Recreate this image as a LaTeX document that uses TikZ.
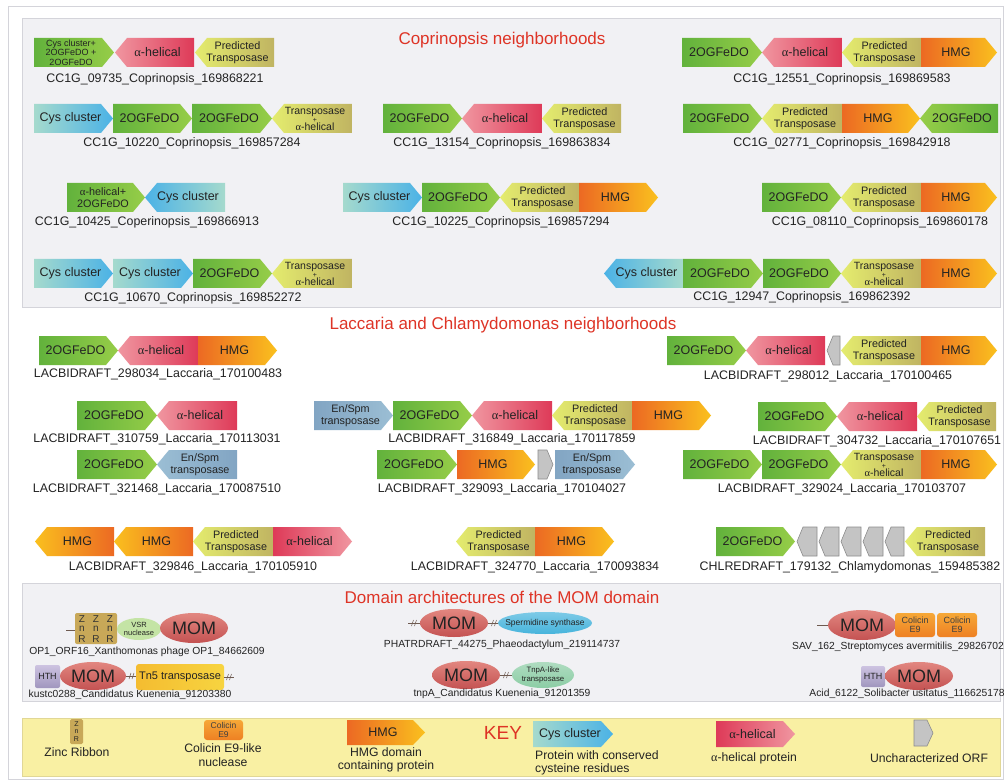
\documentclass[tikz,border=0pt]{standalone}
\usepackage{fontspec}
\setmainfont{Liberation Sans}
\newfontfamily\grk{Liberation Serif}
\newcommand{\al}{{\grk α}}
\definecolor{ogb}{RGB}{98,178,60}
\definecolor{ogt}{RGB}{150,205,72}
\definecolor{ahb}{RGB}{222,58,88}
\definecolor{aht}{RGB}{240,150,160}
\definecolor{ptb}{RGB}{192,180,98}
\definecolor{ptt}{RGB}{228,236,110}
\definecolor{hmgb}{RGB}{236,105,35}
\definecolor{hmgt}{RGB}{250,192,30}
\definecolor{cysb}{RGB}{165,218,205}
\definecolor{cyst}{RGB}{75,178,230}
\definecolor{enb}{RGB}{130,165,195}
\definecolor{ent}{RGB}{155,190,212}
\definecolor{orfc}{RGB}{196,196,196}
\definecolor{orfd}{RGB}{140,140,140}
\definecolor{txt}{RGB}{35,35,35}
\definecolor{ttlred}{RGB}{222,52,38}
\definecolor{panelbg}{RGB}{241,241,244}
\definecolor{panelln}{RGB}{212,212,218}
\definecolor{keybg}{RGB}{249,240,163}
\definecolor{keyln}{RGB}{225,215,150}
\definecolor{momt}{RGB}{226,135,128}
\definecolor{momb}{RGB}{196,82,82}
\definecolor{tanc}{RGB}{200,168,88}
\definecolor{vsrc}{RGB}{196,228,165}
\definecolor{htht}{RGB}{205,195,225}
\definecolor{hthb}{RGB}{160,150,190}
\definecolor{tnl}{RGB}{244,188,48}
\definecolor{tnr}{RGB}{247,212,64}
\definecolor{spc}{RGB}{70,180,220}
\definecolor{tnpc}{RGB}{140,205,165}
\definecolor{cola}{RGB}{238,128,35}
\definecolor{colb}{RGB}{246,168,55}
\definecolor{hashc}{RGB}{110,90,80}
\newcount\gcnt
\def\hh{29}
\def\tl{12}
% forward gene: [node opts]{x1}{x2}{ytop}{kind}{text}
\newcommand{\gf}[6][]{%
  \global\advance\gcnt by 1
  \shade[left color=#5b, right color=#5t] (#2,#4) -- ({#3-\tl},#4) -- (#3,{#4+\hh/2}) -- ({#3-\tl},{#4+\hh}) -- (#2,{#4+\hh}) -- cycle;
  \node[gtext,#1] (g\the\gcnt) at ({(#2+#3-\tl/2)/2},{#4+\hh/2}) {#6};
}
% reverse gene
\newcommand{\gr}[6][]{%
  \global\advance\gcnt by 1
  \shade[left color=#5t, right color=#5b] (#2,{#4+\hh/2}) -- ({#2+\tl},#4) -- (#3,#4) -- (#3,{#4+\hh}) -- ({#2+\tl},{#4+\hh}) -- cycle;
  \node[gtext,#1] (g\the\gcnt) at ({(#2+#3+\tl/2)/2},{#4+\hh/2}) {#6};
}
% grey ORFs
\newcommand{\orff}[3]{%
  \filldraw[fill=orfc, draw=orfd, line width=0.6pt] (#1,#3) -- ({#2-6},#3) -- (#2,{#3+\hh/2}) -- ({#2-6},{#3+\hh}) -- (#1,{#3+\hh}) -- cycle;}
\newcommand{\orfr}[3]{%
  \filldraw[fill=orfc, draw=orfd, line width=0.6pt] (#1,{#3+\hh/2}) -- ({#1+6},#3) -- (#2,#3) -- (#2,{#3+\hh}) -- ({#1+6},{#3+\hh}) -- cycle;}
% hash connector
\newcommand{\hashln}[3]{%
  \draw[hashc, line width=0.6pt] (#1,#3) -- (#2,#3);
  \draw[hashc, line width=0.5pt] ({(#1+#2)/2-2.5},{#3+3}) -- ({(#1+#2)/2-0.5},{#3-3});
  \draw[hashc, line width=0.5pt] ({(#1+#2)/2+0.5},{#3+3}) -- ({(#1+#2)/2+2.5},{#3-3});}
\tikzset{
  gtext/.style={inner sep=0pt, text=txt, font=\fontsize{12.5}{14}\selectfont, align=center},
  two/.style={font=\fontsize{10.8}{11.5}\selectfont},
  tpa/.style={font=\fontsize{10.5}{9}\selectfont},
  three/.style={font=\fontsize{9}{9.3}\selectfont},
  lbl/.style={inner sep=0pt, text=txt, font=\fontsize{12.4}{14}\selectfont},
  mlbl/.style={inner sep=0pt, text=txt, font=\fontsize{10.3}{12}\selectfont},
  klbl/.style={inner sep=0pt, text=txt, font=\fontsize{12.2}{13.5}\selectfont, align=center},
  ttl/.style={inner sep=0pt, text=ttlred, font=\fontsize{17}{20}\selectfont},
  panel/.style={fill=panelbg, draw=panelln, line width=1pt},
  momtext/.style={inner sep=0pt, text=txt, font=\fontsize{18}{20}\selectfont},
  smalltext/.style={inner sep=0pt, text=txt, align=center},
}
\newcommand{\TA}{Transposase\\[-1pt]{\fontsize{7}{7}\selectfont +}\\[-1pt]\al-helical}
\newcommand{\PT}{Predicted\\Transposase}
\begin{document}
\begin{tikzpicture}[x=1pt,y=-1pt]
\useasboundingbox (0,0) rectangle (1008,783);
\fill[white] (0,0) rectangle (1008,783);
\draw[panelln, line width=0.8pt] (8,6) rectangle (1003,779);
% panels
\draw[panel] (22,19) rectangle (1000,307);
\draw[panel] (22,583) rectangle (1000,701);
\draw[fill=keybg, draw=keyln, line width=1pt] (22,718) rectangle (1000,776);

% ================= Coprinopsis
\node[ttl] (t1) at (502,40) {Coprinopsis neighborhoods};
% row 1
\gf[three]{34}{114}{38}{og}{Cys cluster+\\2OGFeDO +\\2OGFeDO}
\gr{115}{194}{38}{ah}{\al-helical}
\gr[two]{195}{274}{38}{pt}{\PT}
\node[lbl] (l1) at (155,79) {CC1G\_09735\_Coprinopsis\_169868221};
\gf{682}{762}{38}{og}{2OGFeDO}
\gr{762}{842}{38}{ah}{\al-helical}
\gr[two]{842}{921}{38}{pt}{\PT}
\gf{921}{997}{38}{hmg}{HMG}
\node[lbl] (l2) at (842,79) {CC1G\_12551\_Coprinopsis\_169869583};
% row 2
\gf{34}{113}{104}{cys}{Cys cluster}
\gf{113}{192}{104}{og}{2OGFeDO}
\gf{192}{272}{104}{og}{2OGFeDO}
\gr[tpa]{272}{352}{104}{pt}{\TA}
\node[lbl] (l3) at (192,143) {CC1G\_10220\_Coprinopsis\_169857284};
\gf{383}{462}{104}{og}{2OGFeDO}
\gr{462}{542}{104}{ah}{\al-helical}
\gr[two]{542}{621}{104}{pt}{\PT}
\node[lbl] (l4) at (502,143) {CC1G\_13154\_Coprinopsis\_169863834};
\gf{683}{762}{104}{og}{2OGFeDO}
\gr[two]{762}{842}{104}{pt}{\PT}
\gf{842}{920}{104}{hmg}{HMG}
\gr{920}{998}{104}{og}{2OGFeDO}
\node[lbl] (l5) at (842,143) {CC1G\_02771\_Coprinopsis\_169842918};
% row 3
\gf[two]{67}{145}{183}{og}{\al-helical+\\2OGFeDO}
\gr{145}{225}{183}{cys}{Cys cluster}
\node[lbl] (l6) at (147,222) {CC1G\_10425\_Coperinopsis\_169866913};
\gf{343}{422}{183}{cys}{Cys cluster}
\gf{422}{500}{183}{og}{2OGFeDO}
\gr[two]{500}{579}{183}{pt}{\PT}
\gf{579}{658}{183}{hmg}{HMG}
\node[lbl] (l7) at (501,222) {CC1G\_10225\_Coprinopsis\_169857294};
\gf{762}{841}{183}{og}{2OGFeDO}
\gr[two]{841}{921}{183}{pt}{\PT}
\gf{921}{997}{183}{hmg}{HMG}
\node[lbl] (l8) at (880,222) {CC1G\_08110\_Coprinopsis\_169860178};
% row 4
\gf{34}{113}{259}{cys}{Cys cluster}
\gf{113}{193}{259}{cys}{Cys cluster}
\gf{193}{272}{259}{og}{2OGFeDO}
\gr[tpa]{272}{352}{259}{pt}{\TA}
\node[lbl] (l9) at (193,298) {CC1G\_10670\_Coprinopsis\_169852272};
\gr{604}{683}{259}{cys}{Cys cluster}
\gf{683}{763}{259}{og}{2OGFeDO}
\gf{763}{841}{259}{og}{2OGFeDO}
\gr[tpa]{841}{921}{259}{pt}{\TA}
\gf{921}{997}{259}{hmg}{HMG}
\node[lbl] (l10) at (802,297) {CC1G\_12947\_Coprinopsis\_169862392};

% ================= Laccaria
\node[ttl] (t2) at (503,325) {Laccaria and Chlamydomonas neighborhoods};
% L1
\gf{39}{118}{336}{og}{2OGFeDO}
\gr{118}{198}{336}{ah}{\al-helical}
\gf{198}{277}{336}{hmg}{HMG}
\node[lbl] (l11) at (158,374) {LACBIDRAFT\_298034\_Laccaria\_170100483};
\gf{667}{746}{336}{og}{2OGFeDO}
\gr{746}{825}{336}{ah}{\al-helical}
\orfr{827}{840}{336}
\gr[two]{841}{921}{336}{pt}{\PT}
\gf{921}{997}{336}{hmg}{HMG}
\node[lbl] (l12) at (828,376) {LACBIDRAFT\_298012\_Laccaria\_170100465};
% L2
\gf{77}{157}{401}{og}{2OGFeDO}
\gr{157}{237}{401}{ah}{\al-helical}
\node[lbl] (l13) at (157,439) {LACBIDRAFT\_310759\_Laccaria\_170113031};
\gf[two]{314}{393}{401}{en}{En/Spm\\transposase}
\gf{393}{472}{401}{og}{2OGFeDO}
\gr{472}{552}{401}{ah}{\al-helical}
\gr[two]{552}{632}{401}{pt}{\PT}
\gf{632}{711}{401}{hmg}{HMG}
\node[lbl] (l14) at (512,439) {LACBIDRAFT\_316849\_Laccaria\_170117859};
\gf{758}{837}{402}{og}{2OGFeDO}
\gr{837}{917}{402}{ah}{\al-helical}
\gr[two]{917}{996}{402}{pt}{\PT}
\node[lbl] (l15) at (877,441) {LACBIDRAFT\_304732\_Laccaria\_170107651};
% L3
\gf{77}{157}{450}{og}{2OGFeDO}
\gr[two]{157}{237}{450}{en}{En/Spm\\transposase}
\node[lbl] (l16) at (157,489) {LACBIDRAFT\_321468\_Laccaria\_170087510};
\gf{377}{457}{450}{og}{2OGFeDO}
\gf{457}{535}{450}{hmg}{HMG}
\orff{538}{553}{450}
\gf[two]{555}{635}{450}{en}{En/Spm\\transposase}
\node[lbl] (l17) at (502,489) {LACBIDRAFT\_329093\_Laccaria\_170104027};
\gf{683}{762}{450}{og}{2OGFeDO}
\gf{762}{841}{450}{og}{2OGFeDO}
\gr[tpa]{841}{921}{450}{pt}{\TA}
\gf{921}{997}{450}{hmg}{HMG}
\node[lbl] (l18) at (842,489) {LACBIDRAFT\_329024\_Laccaria\_170103707};
% L4
\gr{35}{114}{527}{hmg}{HMG}
\gr{114}{193}{527}{hmg}{HMG}
\gr[two]{193}{273}{527}{pt}{\PT}
\gf{273}{352}{527}{ah}{\al-helical}
\node[lbl] (l19) at (193,567) {LACBIDRAFT\_329846\_Laccaria\_170105910};
\gr[two]{456}{535}{527}{pt}{\PT}
\gf{535}{614}{527}{hmg}{HMG}
\node[lbl] (l20) at (535,567) {LACBIDRAFT\_324770\_Laccaria\_170093834};
\gf{716}{795}{527}{og}{2OGFeDO}
\orfr{797}{817}{527}
\orfr{819}{839}{527}
\orfr{841}{861}{527}
\orfr{863}{883}{527}
\orfr{885}{904}{527}
\gr[two]{905}{985}{527}{pt}{\PT}
\node[lbl] (l21) at (850,567) {CHLREDRAFT\_179132\_Chlamydomonas\_159485382};

% ================= MOM domain
\node[ttl] (t3) at (502,597) {Domain architectures of the MOM domain};
% OP1
\draw[hashc, line width=0.6pt] (66,630) -- (75,630);
\fill[tanc, rounded corners=2pt] (75,613) rectangle (117,644);
\foreach \xx in {82,96,110}{
  \node[smalltext, font=\fontsize{10}{10}\selectfont, text=black!80] (z\xx a) at (\xx,619) {Z};
  \node[smalltext, font=\fontsize{10}{10}\selectfont, text=black!80] (z\xx b) at (\xx,629) {n};
  \node[smalltext, font=\fontsize{10}{10}\selectfont, text=black!80] (z\xx c) at (\xx,639) {R};
}
\fill[vsrc] (139,629) ellipse [x radius=22, y radius=11];
\node[smalltext, font=\fontsize{7.5}{8}\selectfont] (vsr) at (139,629) {VSR\\nuclease};
\shade[top color=momt, bottom color=momb] (194,628) ellipse [x radius=34, y radius=15];
\node[momtext] (m1) at (194,628) {MOM};
\node[mlbl] (ml1) at (147,652) {OP1\_ORF16\_Xanthomonas phage OP1\_84662609};
% kustc0288
\shade[top color=htht, bottom color=hthb, rounded corners=2pt] (35,665) rectangle (60,688);
\node[smalltext, font=\fontsize{9}{9}\selectfont] (h1) at (47.5,676.5) {HTH};
\shade[top color=momt, bottom color=momb] (93,676) ellipse [x radius=33, y radius=14];
\node[momtext] (m2) at (93,676) {MOM};
\hashln{126}{137}{676}
\shade[left color=tnl, right color=tnr, rounded corners=3pt] (136,664) rectangle (224,690);
\node[smalltext, font=\fontsize{11}{12}\selectfont] (tn5) at (180,677) {Tn5 transposase};
\hashln{224}{234}{677}
\node[mlbl] (ml2) at (130,695) {kustc0288\_Candidatus Kuenenia\_91203380};
% PHATRDRAFT
\hashln{408}{420}{623}
\shade[top color=momt, bottom color=momb] (454,623) ellipse [x radius=34, y radius=14];
\node[momtext] (m3) at (454,623) {MOM};
\hashln{488}{500}{623}
\shade[top color=spc!70!white, bottom color=spc] (545,623) ellipse [x radius=47, y radius=11];
\node[smalltext, font=\fontsize{8.5}{9}\selectfont] (sp) at (545,623) {Spermidine synthase};
\node[mlbl] (ml3) at (502,645) {PHATRDRAFT\_44275\_Phaeodactylum\_219114737};
% tnpA
\shade[top color=momt, bottom color=momb] (466,675) ellipse [x radius=34, y radius=14];
\node[momtext] (m4) at (466,675) {MOM};
\hashln{500}{512}{675}
\shade[top color=tnpc!70!white, bottom color=tnpc] (543,675) ellipse [x radius=31, y radius=13];
\node[smalltext, font=\fontsize{7.8}{8.5}\selectfont] (tnp) at (543,675) {TnpA-like\\transposase};
\node[mlbl] (ml4) at (502,694) {tnpA\_Candidatus Kuenenia\_91201359};
% SAV_162
\draw[hashc, line width=0.6pt] (817,625) -- (829,625);
\shade[top color=momt, bottom color=momb] (862,625) ellipse [x radius=34, y radius=15];
\node[momtext] (m5) at (862,625) {MOM};
\shade[top color=colb, bottom color=cola, rounded corners=3pt] (895,613) rectangle (935,637);
\node[smalltext, font=\fontsize{9}{9.5}\selectfont, text=black!75] (c1) at (915,625) {Colicin\\E9};
\shade[top color=colb, bottom color=cola, rounded corners=3pt] (937,613) rectangle (977,637);
\node[smalltext, font=\fontsize{9}{9.5}\selectfont, text=black!75] (c2) at (957,625) {Colicin\\E9};
\node[mlbl] (ml5) at (898,647) {SAV\_162\_Streptomyces avermitilis\_29826702};
% Acid_6122
\shade[top color=htht, bottom color=hthb, rounded corners=2pt] (861,666) rectangle (885,687);
\node[smalltext, font=\fontsize{9}{9}\selectfont] (h2) at (873,676.5) {HTH};
\shade[top color=momt, bottom color=momb] (919,676) ellipse [x radius=34, y radius=14];
\node[momtext] (m6) at (919,676) {MOM};
\node[mlbl] (ml6) at (907,694) {Acid\_6122\_Solibacter usitatus\_116625178};

% ================= KEY
\fill[tanc, rounded corners=1.5pt] (70,719) rectangle (83,744);
\node[smalltext, font=\fontsize{7}{7}\selectfont] (kz1) at (76.5,724) {Z};
\node[smalltext, font=\fontsize{7}{7}\selectfont] (kz2) at (76.5,731.5) {n};
\node[smalltext, font=\fontsize{7}{7}\selectfont] (kz3) at (76.5,739) {R};
\node[klbl] (k1) at (77,752) {Zinc Ribbon};
\shade[top color=colb, bottom color=cola, rounded corners=3pt] (204,720) rectangle (243,740);
\node[smalltext, font=\fontsize{8.5}{9}\selectfont, text=black!75] (kc) at (223.5,730) {Colicin\\E9};
\node[klbl] (k2) at (223,755) {Colicin E9-like\\nuclease};
\def\hh{25}
\gf{347}{425}{720}{hmg}{HMG}
\node[klbl] (k3) at (386,760) {HMG domain\\containing protein};
\node[inner sep=0pt, text=ttlred, font=\fontsize{19}{20}\selectfont] (key) at (503,733) {KEY};
\def\hh{26}
\gf{533}{613}{721}{cys}{Cys cluster}
\node[klbl, anchor=west, align=left] (k4) at (535,763) {Protein with conserved\\cysteine residues};
\gf{716}{795}{721}{ah}{\al-helical}
\node[klbl] (k5) at (754,758) {\al-helical protein};
\orff{914}{933}{720}
\node[klbl] (k6) at (929,758) {Uncharacterized ORF};
\end{tikzpicture}
\end{document}
